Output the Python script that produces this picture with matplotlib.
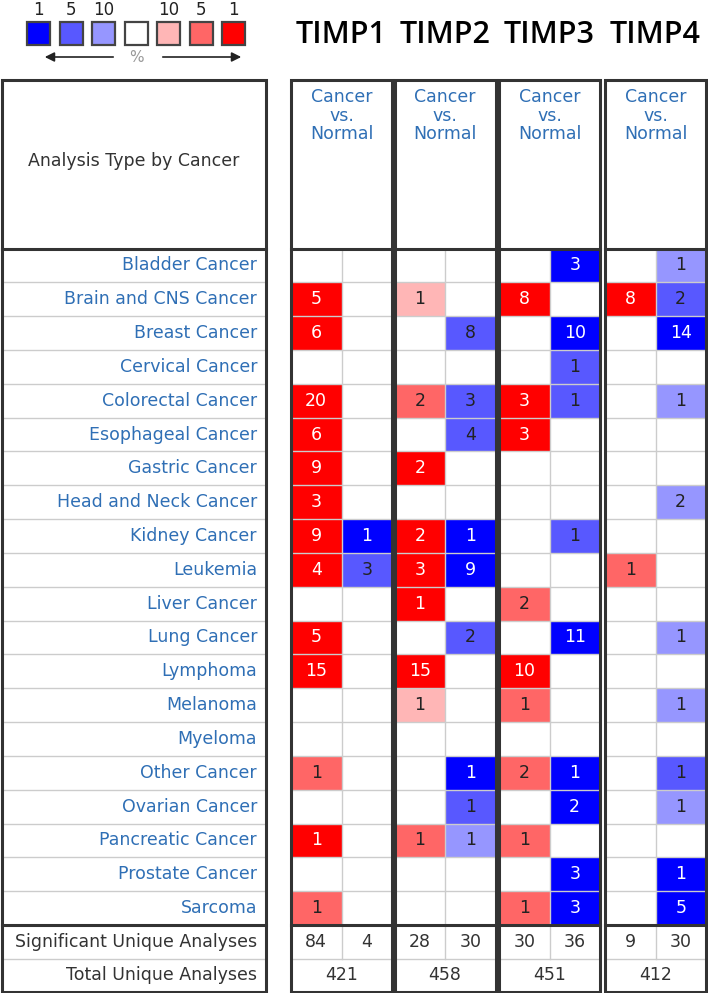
import numpy as np
import matplotlib.pyplot as plt
from matplotlib.patches import Rectangle

cancers = ['Bladder Cancer', 'Brain and CNS Cancer', 'Breast Cancer', 'Cervical Cancer',
           'Colorectal Cancer', 'Esophageal Cancer', 'Gastric Cancer', 'Head and Neck Cancer',
           'Kidney Cancer', 'Leukemia', 'Liver Cancer', 'Lung Cancer', 'Lymphoma', 'Melanoma',
           'Myeloma', 'Other Cancer', 'Ovarian Cancer', 'Pancreatic Cancer', 'Prostate Cancer',
           'Sarcoma']
genes = ['TIMP1', 'TIMP2', 'TIMP3', 'TIMP4']

# counts of analyses (0 = empty), over- (up) and under-expressed (down)
timp1_up = [0, 5, 6, 0, 20, 6, 9, 3, 9, 4, 0, 5, 15, 0, 0, 1, 0, 1, 0, 1]
timp1_down = [0, 0, 0, 0, 0, 0, 0, 0, 1, 3, 0, 0, 0, 0, 0, 0, 0, 0, 0, 0]
timp2_up = [0, 1, 0, 0, 2, 0, 2, 0, 2, 3, 1, 0, 15, 1, 0, 0, 0, 1, 0, 0]
timp2_down = [0, 0, 8, 0, 3, 4, 0, 0, 1, 9, 0, 2, 0, 0, 0, 1, 1, 1, 0, 0]
timp3_up = [0, 8, 0, 0, 3, 3, 0, 0, 0, 0, 2, 0, 10, 1, 0, 2, 0, 1, 0, 1]
timp3_down = [3, 0, 10, 1, 1, 0, 0, 0, 1, 0, 0, 11, 0, 0, 0, 1, 2, 0, 3, 3]
timp4_up = [0, 8, 0, 0, 0, 0, 0, 0, 0, 1, 0, 0, 0, 0, 0, 0, 0, 0, 0, 0]
timp4_down = [1, 2, 14, 0, 1, 0, 0, 2, 0, 0, 0, 1, 0, 1, 0, 1, 1, 0, 1, 5]

# gene rank percentile of the best analysis (1, 5 or 10 %)
timp1_up_pct = [0, 1, 1, 0, 1, 1, 1, 1, 1, 1, 0, 1, 1, 0, 0, 5, 0, 1, 0, 5]
timp1_down_pct = [0, 0, 0, 0, 0, 0, 0, 0, 1, 5, 0, 0, 0, 0, 0, 0, 0, 0, 0, 0]
timp2_up_pct = [0, 10, 0, 0, 5, 0, 1, 0, 1, 1, 1, 0, 1, 10, 0, 0, 0, 5, 0, 0]
timp2_down_pct = [0, 0, 5, 0, 5, 5, 0, 0, 1, 1, 0, 5, 0, 0, 0, 1, 5, 10, 0, 0]
timp3_up_pct = [0, 1, 0, 0, 1, 1, 0, 0, 0, 0, 5, 0, 1, 5, 0, 5, 0, 5, 0, 5]
timp3_down_pct = [1, 0, 1, 5, 5, 0, 0, 0, 5, 0, 0, 1, 0, 0, 0, 1, 1, 0, 1, 1]
timp4_up_pct = [0, 1, 0, 0, 0, 0, 0, 0, 0, 5, 0, 0, 0, 0, 0, 0, 0, 0, 0, 0]
timp4_down_pct = [10, 5, 1, 0, 10, 0, 0, 10, 0, 0, 0, 10, 0, 10, 0, 5, 10, 0, 1, 1]

significant_up = [84, 28, 30, 9]
significant_down = [4, 30, 36, 30]
total_analyses = [421, 458, 451, 412]

legend_labels = ['1', '5', '10', '', '10', '5', '1']

reds = {1: '#ff0000', 5: '#ff6666', 10: '#ffb6b6'}
blues = {1: '#0000ff', 5: '#5858ff', 10: '#9696ff'}
legend_colors = [blues[1], blues[5], blues[10], 'white', reds[10], reds[5], reds[1]]

ups = [timp1_up, timp2_up, timp3_up, timp4_up]
downs = [timp1_down, timp2_down, timp3_down, timp4_down]
ups_pct = [timp1_up_pct, timp2_up_pct, timp3_up_pct, timp4_up_pct]
downs_pct = [timp1_down_pct, timp2_down_pct, timp3_down_pct, timp4_down_pct]

label_blue = '#2f6fb5'
dark = '#333333'
grid = '#cccccc'
fs = 12.5

fig = plt.figure(figsize=(7.08, 9.93), dpi=100)
ax = fig.add_axes([0, 0, 1, 1])
ax.set_xlim(0, 708)
ax.set_ylim(993, 0)
ax.axis('off')

head_top, head_bot = 80, 248.5
row_h = (925 - head_bot) / len(cancers)
body_bot = head_bot + row_h * len(cancers)
sig_bot = body_bot + 34
tot_bot = 992
panel_x = [291, 394.5, 499, 605]
pw = 101

# legend
for i, (c, lab) in enumerate(zip(legend_colors, legend_labels)):
    x0 = 27 + 32.5 * i
    ax.add_patch(Rectangle((x0, 22), 23, 23, facecolor=c, edgecolor='#444444', lw=1.6))
    if lab:
        ax.text(x0 + 11.5, 10, lab, ha='center', va='center', fontsize=12, color='#222222')
ax.annotate('', xy=(42, 57), xytext=(116, 57),
            arrowprops=dict(arrowstyle='-|>', color='#222222', lw=1.2, mutation_scale=14))
ax.annotate('', xy=(244, 57), xytext=(160, 57),
            arrowprops=dict(arrowstyle='-|>', color='#222222', lw=1.2, mutation_scale=14))
ax.text(136, 58, '%', ha='center', va='center', fontsize=11, color='#999999')

# left panel
ax.text(134, 161, 'Analysis Type by Cancer', ha='center', va='center', fontsize=fs, color='#333333')
for i, name in enumerate(cancers):
    yc = head_bot + row_h * (i + 0.5)
    ax.text(257, yc, name, ha='right', va='center', fontsize=fs, color=label_blue)
ax.text(257, (body_bot + sig_bot) / 2, 'Significant Unique Analyses', ha='right', va='center',
        fontsize=fs, color='#333333')
ax.text(257, (sig_bot + tot_bot) / 2, 'Total Unique Analyses', ha='right', va='center',
        fontsize=fs, color='#333333')

def draw_grid(x0, x1):
    for i in range(1, len(cancers)):
        y = head_bot + row_h * i
        ax.plot([x0, x1], [y, y], color=grid, lw=1, zorder=3)
    ax.plot([x0, x1], [sig_bot, sig_bot], color=grid, lw=1, zorder=3)

def draw_frame(x0, x1):
    ax.add_patch(Rectangle((x0, head_top), x1 - x0, tot_bot - head_top, fill=False,
                           edgecolor=dark, lw=2.2, zorder=5))
    for y in (head_bot, body_bot):
        ax.plot([x0, x1], [y, y], color=dark, lw=2.2, zorder=5)

draw_grid(2, 266)
draw_frame(2, 266)

# gene panels
for g, gene in enumerate(genes):
    x0 = panel_x[g]
    xm = x0 + pw / 2
    ax.text(xm, 35, gene, ha='center', va='center', fontsize=22, fontweight='semibold',
            family=['Open Sans', 'DejaVu Sans'], color='black')
    ax.text(xm, 88, 'Cancer\nvs.\nNormal', ha='center', va='top', fontsize=fs,
            linespacing=1.05, color=label_blue)
    for side, (vals, pcts, cmap) in enumerate([(ups[g], ups_pct[g], reds),
                                                (downs[g], downs_pct[g], blues)]):
        cx = x0 + side * pw / 2
        for i, (v, p) in enumerate(zip(vals, pcts)):
            if v == 0:
                continue
            y0 = head_bot + row_h * i
            ax.add_patch(Rectangle((cx, y0), pw / 2, row_h, facecolor=cmap[p],
                                   edgecolor='none', zorder=2))
            ax.text(cx + pw / 4, y0 + row_h / 2, str(v), ha='center', va='center',
                    fontsize=fs, color='white' if p == 1 else '#222222', zorder=4)
    ax.text(x0 + pw / 4, (body_bot + sig_bot) / 2, str(significant_up[g]), ha='center',
            va='center', fontsize=fs, color='#333333')
    ax.text(x0 + 3 * pw / 4, (body_bot + sig_bot) / 2, str(significant_down[g]), ha='center',
            va='center', fontsize=fs, color='#333333')
    ax.text(xm, (sig_bot + tot_bot) / 2, str(total_analyses[g]), ha='center', va='center',
            fontsize=fs, color='#333333')
    draw_grid(x0, x0 + pw)
    ax.plot([xm, xm], [head_bot, sig_bot], color=grid, lw=1, zorder=3)
    draw_frame(x0, x0 + pw)

fig.savefig('out.png', dpi=100)
